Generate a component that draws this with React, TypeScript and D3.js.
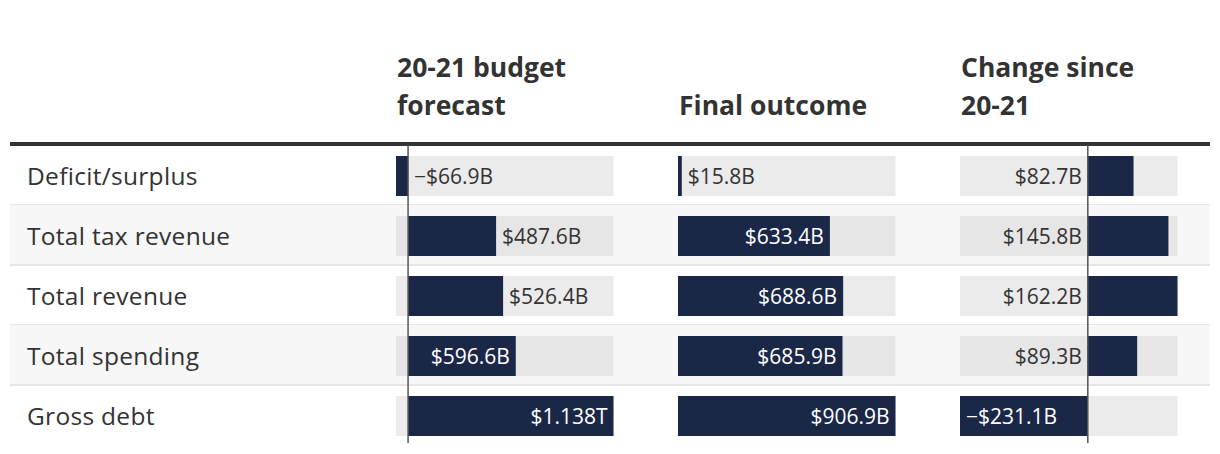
import React from "react";
import * as d3 from "d3";

const rowLabels = ["Deficit/surplus", "Total tax revenue", "Total revenue", "Total spending", "Gross debt"];
const forecast = [-66.9, 487.6, 526.4, 596.6, 1138];
const outcome = [15.8, 633.4, 688.6, 685.9, 906.9];
const change = [82.7, 145.8, 162.2, 89.3, -231.1];
const headers = [["20-21 budget", "forecast"], ["", "Final outcome"], ["Change since", "20-21"]];

const W = 1220, H = 454;
const FONT = "'Open Sans', 'Noto Sans', sans-serif";
const NAVY = "#1b2746";
const TEXT = "#333333";

const colX = [396, 678, 960];
const colW = 217.5;
const tableLeft = 10, tableRight = 1210;
const ruleY = 142;
const rowTop0 = 145;
const rowH = 60;
const barH = 40;
const valSize = 21;

let ctx: CanvasRenderingContext2D | null = null;
function textWidth(t: string, size: number) {
  if (!ctx) ctx = document.createElement("canvas").getContext("2d");
  if (!ctx) return t.length * size * 0.5;
  ctx.font = `${size}px ${FONT}`;
  return ctx.measureText(t).width;
}

function fmt(v: number) {
  const sign = v < 0 ? "\u2212" : "";
  const a = Math.abs(v);
  if (a >= 1000) return `${sign}$${(a / 1000).toFixed(3)}T`;
  return `${sign}$${a.toFixed(1)}B`;
}

function Column({ values, ci }: { values: number[]; ci: number }) {
  const x0 = colX[ci];
  const lo = Math.min(0, d3.min(values) as number);
  const hi = Math.max(0, d3.max(values) as number);
  const x = d3.scaleLinear().domain([lo, hi]).range([x0, x0 + colW]);
  const zero = x(0);
  const pad = 6;
  return (
    <g>
      {values.map((v, i) => {
        const top = rowTop0 + i * rowH;
        const cy = top + rowH / 2 + 1;
        const by = cy - barH / 2;
        const bx = Math.min(x(0), x(v));
        const bw = Math.abs(x(v) - x(0));
        const label = fmt(v);
        const tw = textWidth(label, valSize);
        const shaded = i % 2 === 1;
        let tx: number, anchor: "start" | "end", fill: string;
        const endX = x(v);
        if (bw >= Math.max(tw + 20, 100)) {
          fill = "#ffffff";
          if (v >= 0) { tx = endX - pad; anchor = "end"; }
          else { tx = endX + pad; anchor = "start"; }
        } else {
          fill = TEXT;
          const spaceAfter = v >= 0 ? x0 + colW - endX : endX - x0;
          if (spaceAfter >= tw + 2 * pad) {
            if (v >= 0) { tx = endX + pad; anchor = "start"; }
            else { tx = endX - pad; anchor = "end"; }
          } else {
            if (v >= 0) { tx = zero - pad; anchor = "end"; }
            else { tx = zero + pad; anchor = "start"; }
          }
        }
        return (
          <g key={i}>
            <rect x={x0} y={by} width={colW} height={barH} fill={shaded ? "#e6e6e6" : "#ebebeb"} />
            <rect x={bx} y={by} width={bw} height={barH} fill={NAVY} />
            <text x={tx} y={cy + 8} textAnchor={anchor} fontSize={valSize} fill={fill} fontFamily={FONT}>
              {label}
            </text>
          </g>
        );
      })}
      {lo < 0 && (
        <line x1={zero} x2={zero} y1={rowTop0} y2={rowTop0 + rowLabels.length * rowH - 2} stroke="#555" strokeWidth={1.5} />
      )}
    </g>
  );
}

export default function App() {
  return (
    <svg width={W} height={H} style={{ position: "absolute", left: 0, top: 0, background: "#fff" }} fontFamily={FONT}>
      <rect width={W} height={H} fill="#fff" />
      {rowLabels.map((r, i) => {
        const top = rowTop0 + i * rowH;
        return (
          <g key={r}>
            {i % 2 === 1 && <rect x={tableLeft} y={top} width={tableRight - tableLeft} height={rowH} fill="#f7f7f7" />}
            {i < rowLabels.length - 1 && (
              <rect x={tableLeft} y={top + rowH - 1} width={tableRight - tableLeft} height={2} fill="#e6e6e6" />
            )}
            <text x={27} y={top + rowH / 2 + 10} fontSize={24.5} letterSpacing={0.3} fill={TEXT}>{r}</text>
          </g>
        );
      })}
      {headers.map((h, ci) => (
        <g key={ci}>
          {h.map((line, li) => (
            <text key={li} x={colX[ci] + 1} y={77 + li * 38} fontSize={26.5} fontWeight={700} fill={TEXT}>{line}</text>
          ))}
        </g>
      ))}
      <rect x={tableLeft} y={ruleY} width={tableRight - tableLeft} height={4} fill="#333" />
      <Column values={forecast} ci={0} />
      <Column values={outcome} ci={1} />
      <Column values={change} ci={2} />
    </svg>
  );
}
